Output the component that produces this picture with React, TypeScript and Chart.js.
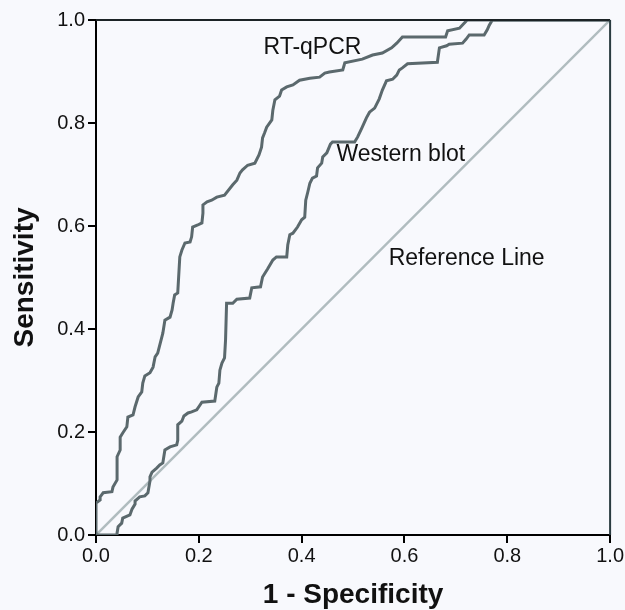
import React, { useEffect, useRef } from "react";
import { Chart, registerables } from "chart.js";

Chart.register(...registerables);

// RT-qPCR ROC curve (1 - specificity, sensitivity)
const rtqpcrFpr = [0, 0, 0.008, 0.008, 0.014, 0.031, 0.033, 0.041, 0.041, 0.047, 0.047, 0.052, 0.060, 0.062, 0.072, 0.076, 0.082, 0.089, 0.091, 0.095, 0.105, 0.111, 0.115, 0.120, 0.130, 0.134, 0.144, 0.148, 0.150, 0.153, 0.159, 0.163, 0.167, 0.173, 0.183, 0.186, 0.188, 0.198, 0.206, 0.208, 0.208, 0.216, 0.225, 0.235, 0.250, 0.266, 0.274, 0.280, 0.285, 0.295, 0.309, 0.317, 0.322, 0.324, 0.328, 0.332, 0.342, 0.344, 0.348, 0.357, 0.361, 0.371, 0.383, 0.396, 0.416, 0.435, 0.445, 0.454, 0.480, 0.484, 0.518, 0.538, 0.557, 0.575, 0.585, 0.596, 0.629, 0.680, 0.684, 0.707, 0.722, 1];
const rtqpcrTpr = [0, 0.062, 0.068, 0.074, 0.082, 0.084, 0.093, 0.107, 0.152, 0.165, 0.190, 0.198, 0.210, 0.229, 0.233, 0.249, 0.268, 0.278, 0.295, 0.309, 0.315, 0.326, 0.346, 0.353, 0.392, 0.417, 0.423, 0.437, 0.450, 0.466, 0.470, 0.540, 0.553, 0.567, 0.569, 0.579, 0.598, 0.602, 0.606, 0.625, 0.641, 0.647, 0.650, 0.656, 0.660, 0.680, 0.689, 0.703, 0.709, 0.718, 0.722, 0.738, 0.753, 0.771, 0.781, 0.792, 0.806, 0.825, 0.845, 0.852, 0.864, 0.870, 0.874, 0.883, 0.887, 0.889, 0.897, 0.899, 0.903, 0.917, 0.924, 0.932, 0.936, 0.946, 0.955, 0.967, 0.967, 0.967, 0.979, 0.984, 1, 1];

// Western blot ROC curve
const westernFpr = [0, 0.041, 0.041, 0.043, 0.050, 0.052, 0.066, 0.070, 0.076, 0.076, 0.085, 0.095, 0.101, 0.105, 0.105, 0.109, 0.118, 0.124, 0.130, 0.134, 0.144, 0.157, 0.159, 0.159, 0.167, 0.171, 0.179, 0.186, 0.196, 0.202, 0.206, 0.231, 0.235, 0.239, 0.241, 0.245, 0.250, 0.252, 0.254, 0.266, 0.274, 0.299, 0.303, 0.320, 0.324, 0.334, 0.344, 0.351, 0.371, 0.373, 0.377, 0.383, 0.392, 0.400, 0.406, 0.408, 0.412, 0.416, 0.421, 0.429, 0.431, 0.439, 0.441, 0.449, 0.456, 0.460, 0.503, 0.509, 0.517, 0.526, 0.532, 0.542, 0.551, 0.557, 0.565, 0.577, 0.585, 0.590, 0.596, 0.606, 0.664, 0.668, 0.682, 0.687, 0.713, 0.720, 0.726, 0.755, 0.761, 0.765, 0.771, 1];
const westernTpr = [0, 0, 0.004, 0.016, 0.023, 0.033, 0.039, 0.050, 0.060, 0.066, 0.074, 0.076, 0.082, 0.105, 0.113, 0.122, 0.130, 0.136, 0.140, 0.165, 0.171, 0.175, 0.184, 0.214, 0.221, 0.231, 0.237, 0.239, 0.243, 0.252, 0.258, 0.260, 0.287, 0.295, 0.320, 0.334, 0.344, 0.379, 0.450, 0.450, 0.458, 0.460, 0.480, 0.482, 0.501, 0.517, 0.534, 0.540, 0.540, 0.563, 0.583, 0.586, 0.598, 0.612, 0.617, 0.650, 0.666, 0.683, 0.693, 0.697, 0.713, 0.722, 0.734, 0.742, 0.759, 0.763, 0.763, 0.773, 0.790, 0.810, 0.821, 0.829, 0.847, 0.864, 0.882, 0.885, 0.893, 0.903, 0.907, 0.915, 0.918, 0.946, 0.950, 0.953, 0.955, 0.963, 0.971, 0.971, 0.981, 0.990, 1, 1];

// Reference (chance) line
const referenceFpr = [0, 1];
const referenceTpr = [0, 1];

const tickValues = [0, 0.2, 0.4, 0.6, 0.8, 1.0];

const curveLabels = ["RT-qPCR", "Western blot", "Reference Line"];
const curveLabelX = [0.421, 0.593, 0.721];
const curveLabelY = [0.947, 0.738, 0.536];

const toPoints = (xs: number[], ys: number[]) => xs.map((x, i) => ({ x, y: ys[i] }));

const bgPlugin = {
  id: "bgPlugin",
  beforeDraw(chart: any) {
    const { ctx, width, height } = chart;
    ctx.save();
    ctx.fillStyle = "#f8f9fd";
    ctx.fillRect(0, 0, width, height);
    ctx.restore();
  },
};

const framePlugin = {
  id: "framePlugin",
  afterDatasetsDraw(chart: any) {
    const { ctx, chartArea } = chart;
    const { left, right, top, bottom } = chartArea;
    ctx.save();
    ctx.lineWidth = 2;
    ctx.strokeStyle = "#1c2326";
    ctx.beginPath();
    ctx.moveTo(left, top);
    ctx.lineTo(right, top);
    ctx.stroke();
    ctx.strokeStyle = "#2a3b40";
    ctx.beginPath();
    ctx.moveTo(right, top);
    ctx.lineTo(right, bottom);
    ctx.stroke();

    const xs = chart.scales.x;
    const ys = chart.scales.y;
    ctx.fillStyle = "#111111";
    ctx.font = "23px 'Liberation Sans', Arial, sans-serif";
    ctx.textAlign = "center";
    ctx.textBaseline = "middle";
    curveLabels.forEach((t, i) => {
      ctx.fillText(t, xs.getPixelForValue(curveLabelX[i]), ys.getPixelForValue(curveLabelY[i]));
    });
    ctx.restore();
  },
};

export default function App() {
  const ref = useRef<HTMLCanvasElement | null>(null);
  useEffect(() => {
    if (!ref.current) return;
    const tickFont = { family: "'Liberation Sans', Arial, sans-serif", size: 20 };
    const titleFont = { family: "'Liberation Sans', Arial, sans-serif", size: 28, weight: "bold" as const };
    const chart = new Chart(ref.current, {
      type: "scatter",
      data: {
        datasets: [
          {
            label: "RT-qPCR",
            data: toPoints(rtqpcrFpr, rtqpcrTpr),
            showLine: true,
            borderColor: "#5b696d",
            borderWidth: 3,
            pointRadius: 0,
            tension: 0,
          },
          {
            label: "Western blot",
            data: toPoints(westernFpr, westernTpr),
            showLine: true,
            borderColor: "#5b696d",
            borderWidth: 3,
            pointRadius: 0,
            tension: 0,
          },
          {
            label: "Reference Line",
            data: toPoints(referenceFpr, referenceTpr),
            showLine: true,
            borderColor: "#b0bcbf",
            borderWidth: 2.5,
            pointRadius: 0,
          },
        ],
      },
      options: {
        animation: false,
        responsive: false,
        maintainAspectRatio: false,
        layout: { padding: { top: 20, right: 14, left: 0, bottom: 0 } },
        plugins: { legend: { display: false }, tooltip: { enabled: false } },
        scales: {
          x: {
            type: "linear",
            min: 0,
            max: 1,
            afterFit: (s: any) => { s.height = 75; },
            afterBuildTicks: (s: any) => { s.ticks = tickValues.map((v) => ({ value: v })); },
            ticks: { font: tickFont, color: "#111", padding: 1, callback: (v: any) => Number(v).toFixed(1) },
            grid: { display: true, drawOnChartArea: false, drawTicks: true, tickLength: 8, color: "#000", lineWidth: 2 },
            border: { display: true, color: "#000", width: 2 },
            title: { display: true, text: "1 - Specificity", font: titleFont, color: "#111", padding: { top: 0, bottom: -2 } },
          },
          y: {
            type: "linear",
            min: 0,
            max: 1,
            afterFit: (s: any) => { s.width = 96; },
            afterBuildTicks: (s: any) => { s.ticks = tickValues.map((v) => ({ value: v })); },
            ticks: { font: tickFont, color: "#111", padding: 3, callback: (v: any) => Number(v).toFixed(1) },
            grid: { display: true, drawOnChartArea: false, drawTicks: true, tickLength: 8, color: "#000", lineWidth: 2 },
            border: { display: true, color: "#000", width: 2 },
            title: { display: true, text: "Sensitivity", font: titleFont, color: "#111", padding: { top: 8, bottom: 0 } },
          },
        },
      },
      plugins: [bgPlugin, framePlugin],
    });
    return () => chart.destroy();
  }, []);
  return (
    <div style={{ position: "fixed", left: 0, top: 0, width: 625, height: 610, background: "#f8f9fd" }}>
      <canvas ref={ref} width={625} height={610} style={{ display: "block", width: 625, height: 610 }} />
    </div>
  );
}
